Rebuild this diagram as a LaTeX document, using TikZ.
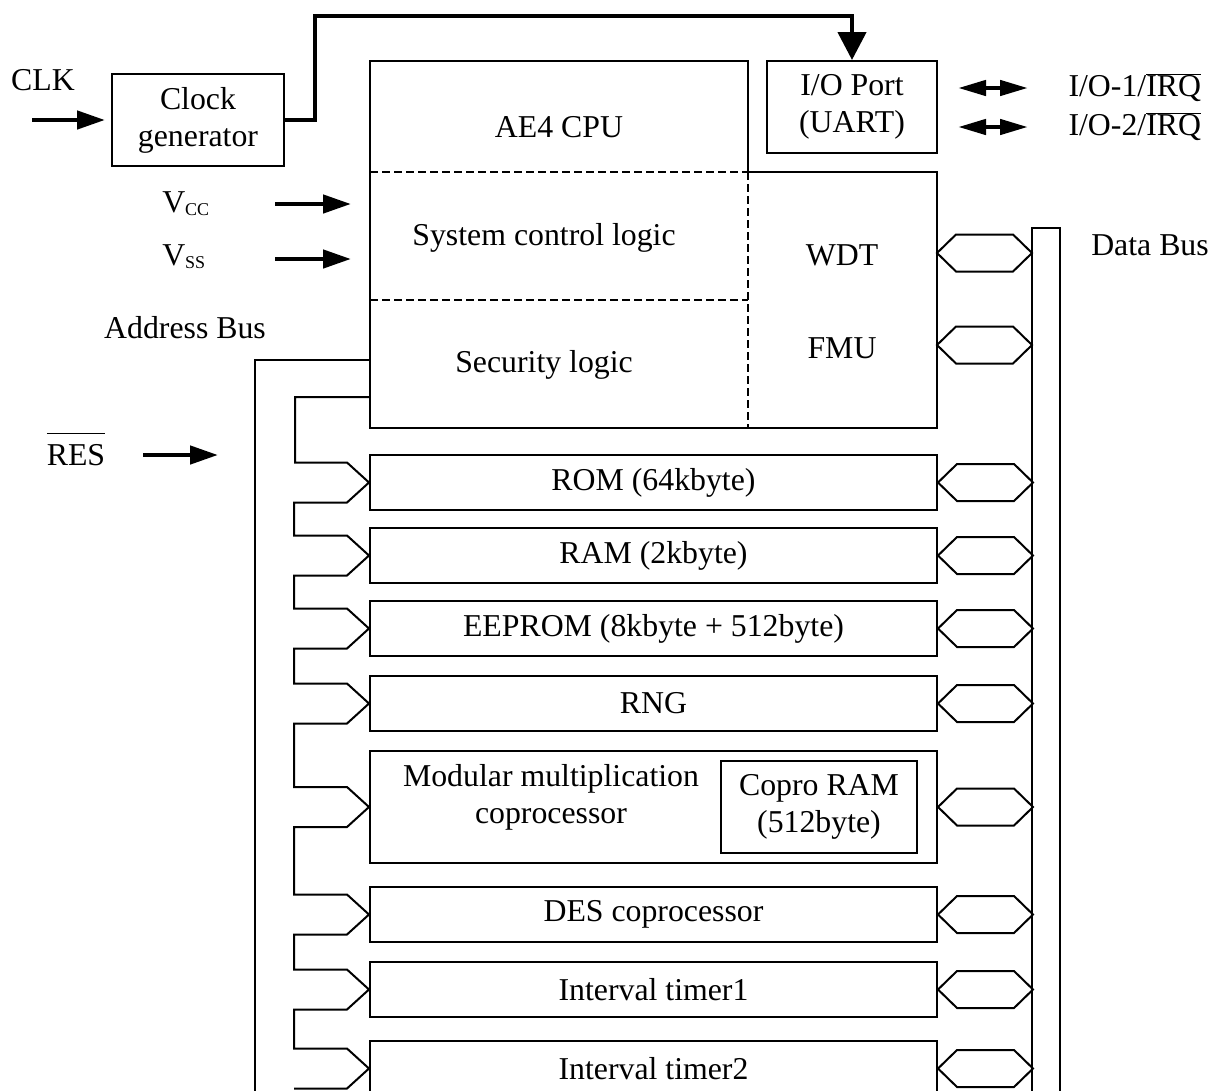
\documentclass[tikz,border=0pt]{standalone}
\usepackage{fontspec}
\setmainfont{Liberation Serif}
\usetikzlibrary{positioning,arrows.meta}

\tikzset{
  wire/.style={line width=2pt},
  dsh/.style={line width=1.5pt, dash pattern=on 8pt off 4pt},
  blk/.style={draw, wire, minimum width=567pt, minimum height=55pt},
  box/.style={draw, wire, align=center},
  sig/.style={line width=4.5pt, -{Triangle[length=28pt,width=18pt]}},
  bidir/.style={line width=4.5pt, {Triangle[length=28pt,width=15pt]}-{Triangle[length=28pt,width=15pt]}},
  port/.pic={\draw[wire] (0,0) -- (19,-18.5) -- (76,-18.5) -- (95,0) -- (76,18.5) -- (19,18.5) -- cycle;}
}

\begin{document}
\begin{tikzpicture}[x=1pt, y=-1pt, font=\fontsize{31.8}{37}\selectfont]
    \useasboundingbox (0,0) rectangle (1209,1090);
    \clip (0,0) rectangle (1209,1090);

    \node[box, minimum width=172pt, minimum height=92pt] (clkgen) at (198,120) {Clock\\generator};
    \node (clk) at (43,80) {CLK};
    \coordinate (clkin) at (32,120);
    \draw[sig, shorten >=6pt] (clkin) -- (clkgen.west);

    \node[box, minimum width=170pt, minimum height=92pt] (uart) at (852,107) {I/O Port\\(UART)};
    \draw[sig, -{Triangle[length=28pt,width=28pt]}] (clkgen.east) -| (315,16) -| (uart.north);

    \node[anchor=west] (io1) at (1065,88) {I/O-1/$\overline{\mbox{IRQ}}$};
    \node[anchor=west] (io2) at (1065,127) {I/O-2/$\overline{\mbox{IRQ}}$};
    \draw[bidir, shorten <=20pt, shorten >=37pt] (uart.east |- io1) -- (io1.west);
    \draw[bidir, shorten <=20pt, shorten >=37pt] (uart.east |- io2) -- (io2.west);

    \coordinate (cpuNW) at (370,61);
    \draw[wire] (370,428) -- (cpuNW) -- (748,61) -- (748,172) -- (937,172) -- (937,428) -- cycle;
    \draw[dsh] (370,172) -- (748,172) (370,300) -- (748,300) (748,172) -- (748,428);
    \node (cpu) at (559,127) {AE4 CPU};
    \node (scl) at (544,238) {System control logic};
    \node (sec) at (544,365) {Security logic};
    \node (wdt) at (842,255) {WDT};
    \node (fmu) at (842,348) {FMU};

    \node[anchor=base] (vcc) at (186,212) {V$_{\mbox{\fontsize{18}{18}\selectfont CC}}$};
    \node[anchor=base] (vss) at (184,265) {V$_{\mbox{\fontsize{18}{18}\selectfont SS}}$};
    \coordinate (vccs) at (275,204);
    \coordinate (vsss) at (275,259);
    \draw[sig, shorten >=19pt] (vccs) -- (vccs -| cpuNW);
    \draw[sig, shorten >=19pt] (vsss) -- (vsss -| cpuNW);

    \node (abus) at (185,328) {Address Bus};
    \node[anchor=base] (res) at (76,465) {$\overline{\mbox{\rule{0pt}{30pt}RES}}$};
    \coordinate (resA) at (143,455);
    \draw[sig] (resA) -- ++(75,0);

    \node[blk] (rom) at (653.5,482.5) {ROM (64kbyte)};
    \node[blk, below=16pt of rom] (ram) {RAM (2kbyte)};
    \node[blk, below=16pt of ram] (eeprom) {EEPROM (8kbyte + 512byte)};
    \node[blk, below=18pt of eeprom] (rng) {RNG};
    \node[blk, minimum height=112pt, below=18pt of rng] (mmc) {};
    \node[align=center] (mmctext) at (551,797) {Modular multiplication\\coprocessor};
    \node[box, minimum width=196pt, minimum height=92pt] (cpram) at (819,807) {Copro RAM\\(512byte)};
    \node[blk, below=22pt of mmc] (des) {DES coprocessor};
    \node[blk, below=18pt of des] (timeA) {Interval timer1};
    \node[blk, below=22pt of timeA] (timeB) {Interval timer2};

    \coordinate (abusA) at (370,360);
    \coordinate (abusB) at (370,397);
    \draw[wire] (abusA) -| (255,1100);
    \draw[wire] (abusB) -- ++(-75,0)
        foreach \b in {rom,ram,eeprom,rng,mmc,des,timeA,timeB}
        { |- ([shift={(-22,-20)}]\b.west) -- (\b.west) -- ++(-22,20) -- ++(-53,0) };

    \node (dbus) at (1150,245) {Data Bus};
    \draw[wire] (1032,1100) |- (1060,228) -- (1060,1100);
    \coordinate (wdtp) at (937,253);
    \coordinate (fmup) at (937,345);
    \pic at (wdtp) {port};
    \pic at (fmup) {port};
    \foreach \b in {rom,ram,eeprom,rng,mmc,des,timeA,timeB}
        \pic at (\b.east) {port};
\end{tikzpicture}
\end{document}
